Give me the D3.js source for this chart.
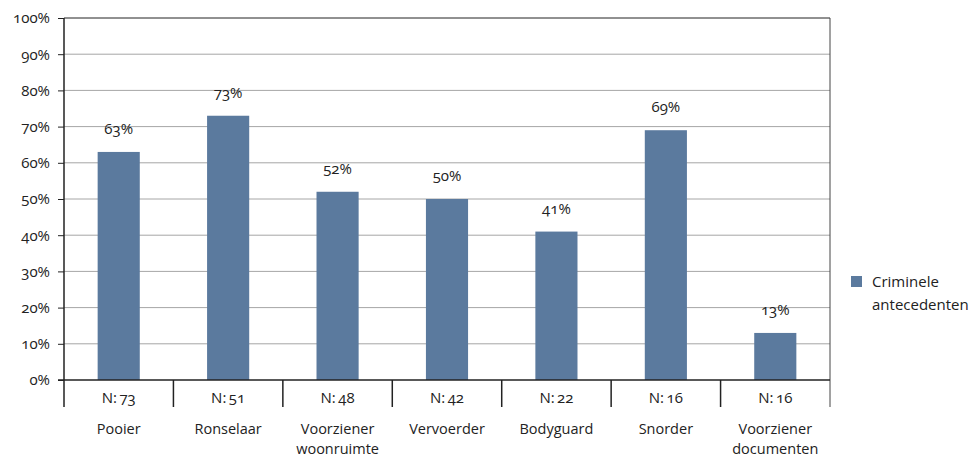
<!DOCTYPE html>
<html><head><meta charset="utf-8">
<script src="https://cdn.jsdelivr.net/npm/d3@7"></script>
<style>
body{margin:0;background:#fff;}
text{font-family:"Open Sans",Lato,sans-serif;font-variant-numeric:oldstyle-nums;font-feature-settings:"onum";fill:#222;}
</style></head><body>
<svg id="chart" width="971" height="458"></svg>
<script>
const categories = [["Pooier"],["Ronselaar"],["Voorziener","woonruimte"],["Vervoerder"],["Bodyguard"],["Snorder"],["Voorziener","documenten"]];
const counts = [73, 51, 48, 42, 22, 16, 16];
const values = [63, 73, 52, 50, 41, 69, 13];
const yTicks = [0,10,20,30,40,50,60,70,80,90,100];
const seriesName = ["Criminele","antecedenten"];

const svg = d3.select("#chart");
const plotL = 64, plotR = 830, plotT = 18, plotB = 380, nRowB = 407;
const idx = d3.range(categories.length);
const x = d3.scaleBand().domain(idx).range([plotL, plotR]).paddingInner(0).paddingOuter(0);
const y = d3.scaleLinear().domain([0, 100]).range([plotB, plotT]);
const barW = x.bandwidth() * 0.385;
const color = "#5b7a9e";

// gridlines
svg.append("g").selectAll("line").data(yTicks.filter(t => t > 0 && t < 100)).join("line")
  .attr("x1", plotL).attr("x2", plotR).attr("y1", d => y(d)).attr("y2", d => y(d))
  .attr("stroke", "#a6a6a6").attr("stroke-width", 1);

// bars
svg.append("g").selectAll("rect").data(values).join("rect")
  .attr("x", (d, i) => x(i) + x.bandwidth() / 2 - barW / 2)
  .attr("width", barW)
  .attr("y", d => y(d))
  .attr("height", d => plotB - y(d))
  .attr("fill", color);

// value labels
svg.append("g").selectAll("text").data(values).join("text")
  .attr("x", (d, i) => x(i) + x.bandwidth() / 2)
  .attr("y", d => y(d) - 18)
  .attr("text-anchor", "middle").attr("font-size", 15)
  .text(d => d + "%");

// top line, right line
svg.append("line").attr("x1", plotL).attr("x2", plotR).attr("y1", y(100)).attr("y2", y(100)).attr("stroke", "#222");
svg.append("line").attr("x1", plotR).attr("x2", plotR).attr("y1", plotT).attr("y2", nRowB).attr("stroke", "#444");

// y axis
const yAxis = d3.axisLeft(y).tickValues(yTicks).tickSize(6).tickPadding(8).tickFormat(d => d + "%");
const yg = svg.append("g").attr("transform", `translate(${plotL},0)`).call(yAxis);
yg.select(".domain").remove();
yg.selectAll(".tick line").attr("stroke", "#222");
yg.selectAll(".tick text").attr("font-size", 15).attr("fill", "#222").attr("font-family", null);
svg.append("line").attr("x1", plotL).attr("x2", plotL).attr("y1", plotT).attr("y2", nRowB).attr("stroke", "#222").attr("stroke-width", 1.5);

// bottom axis line
svg.append("line").attr("x1", plotL - 6).attr("x2", plotR).attr("y1", plotB).attr("y2", plotB).attr("stroke", "#222").attr("stroke-width", 1.5);

// category dividers in the N row
svg.append("g").selectAll("line").data(idx.slice(1)).join("line")
  .attr("x1", d => x(d)).attr("x2", d => x(d)).attr("y1", plotB).attr("y2", nRowB)
  .attr("stroke", "#222").attr("stroke-width", 1.5);

// N labels
svg.append("g").selectAll("text").data(counts).join("text")
  .attr("x", (d, i) => x(i) + x.bandwidth() / 2).attr("y", 403)
  .attr("text-anchor", "middle").attr("font-size", 15)
  .text(d => "N:\u2009" + d);

// category labels (one text element per line)
const lines = categories.flatMap((d, i) => d.map((s, j) => ({s, i, j})));
svg.append("g").selectAll("text").data(lines).join("text")
  .attr("text-anchor", "middle").attr("font-size", 14.5)
  .attr("x", d => x(d.i) + x.bandwidth() / 2)
  .attr("y", d => 434 + d.j * 20)
  .text(d => d.s);

// legend
svg.append("rect").attr("x", 851).attr("y", 276).attr("width", 11).attr("height", 11).attr("fill", color);
svg.append("g").selectAll("text").data(seriesName).join("text")
  .attr("x", 872).attr("y", (d, i) => 287 + i * 23).attr("font-size", 15).text(d => d);
</script>
</body></html>
